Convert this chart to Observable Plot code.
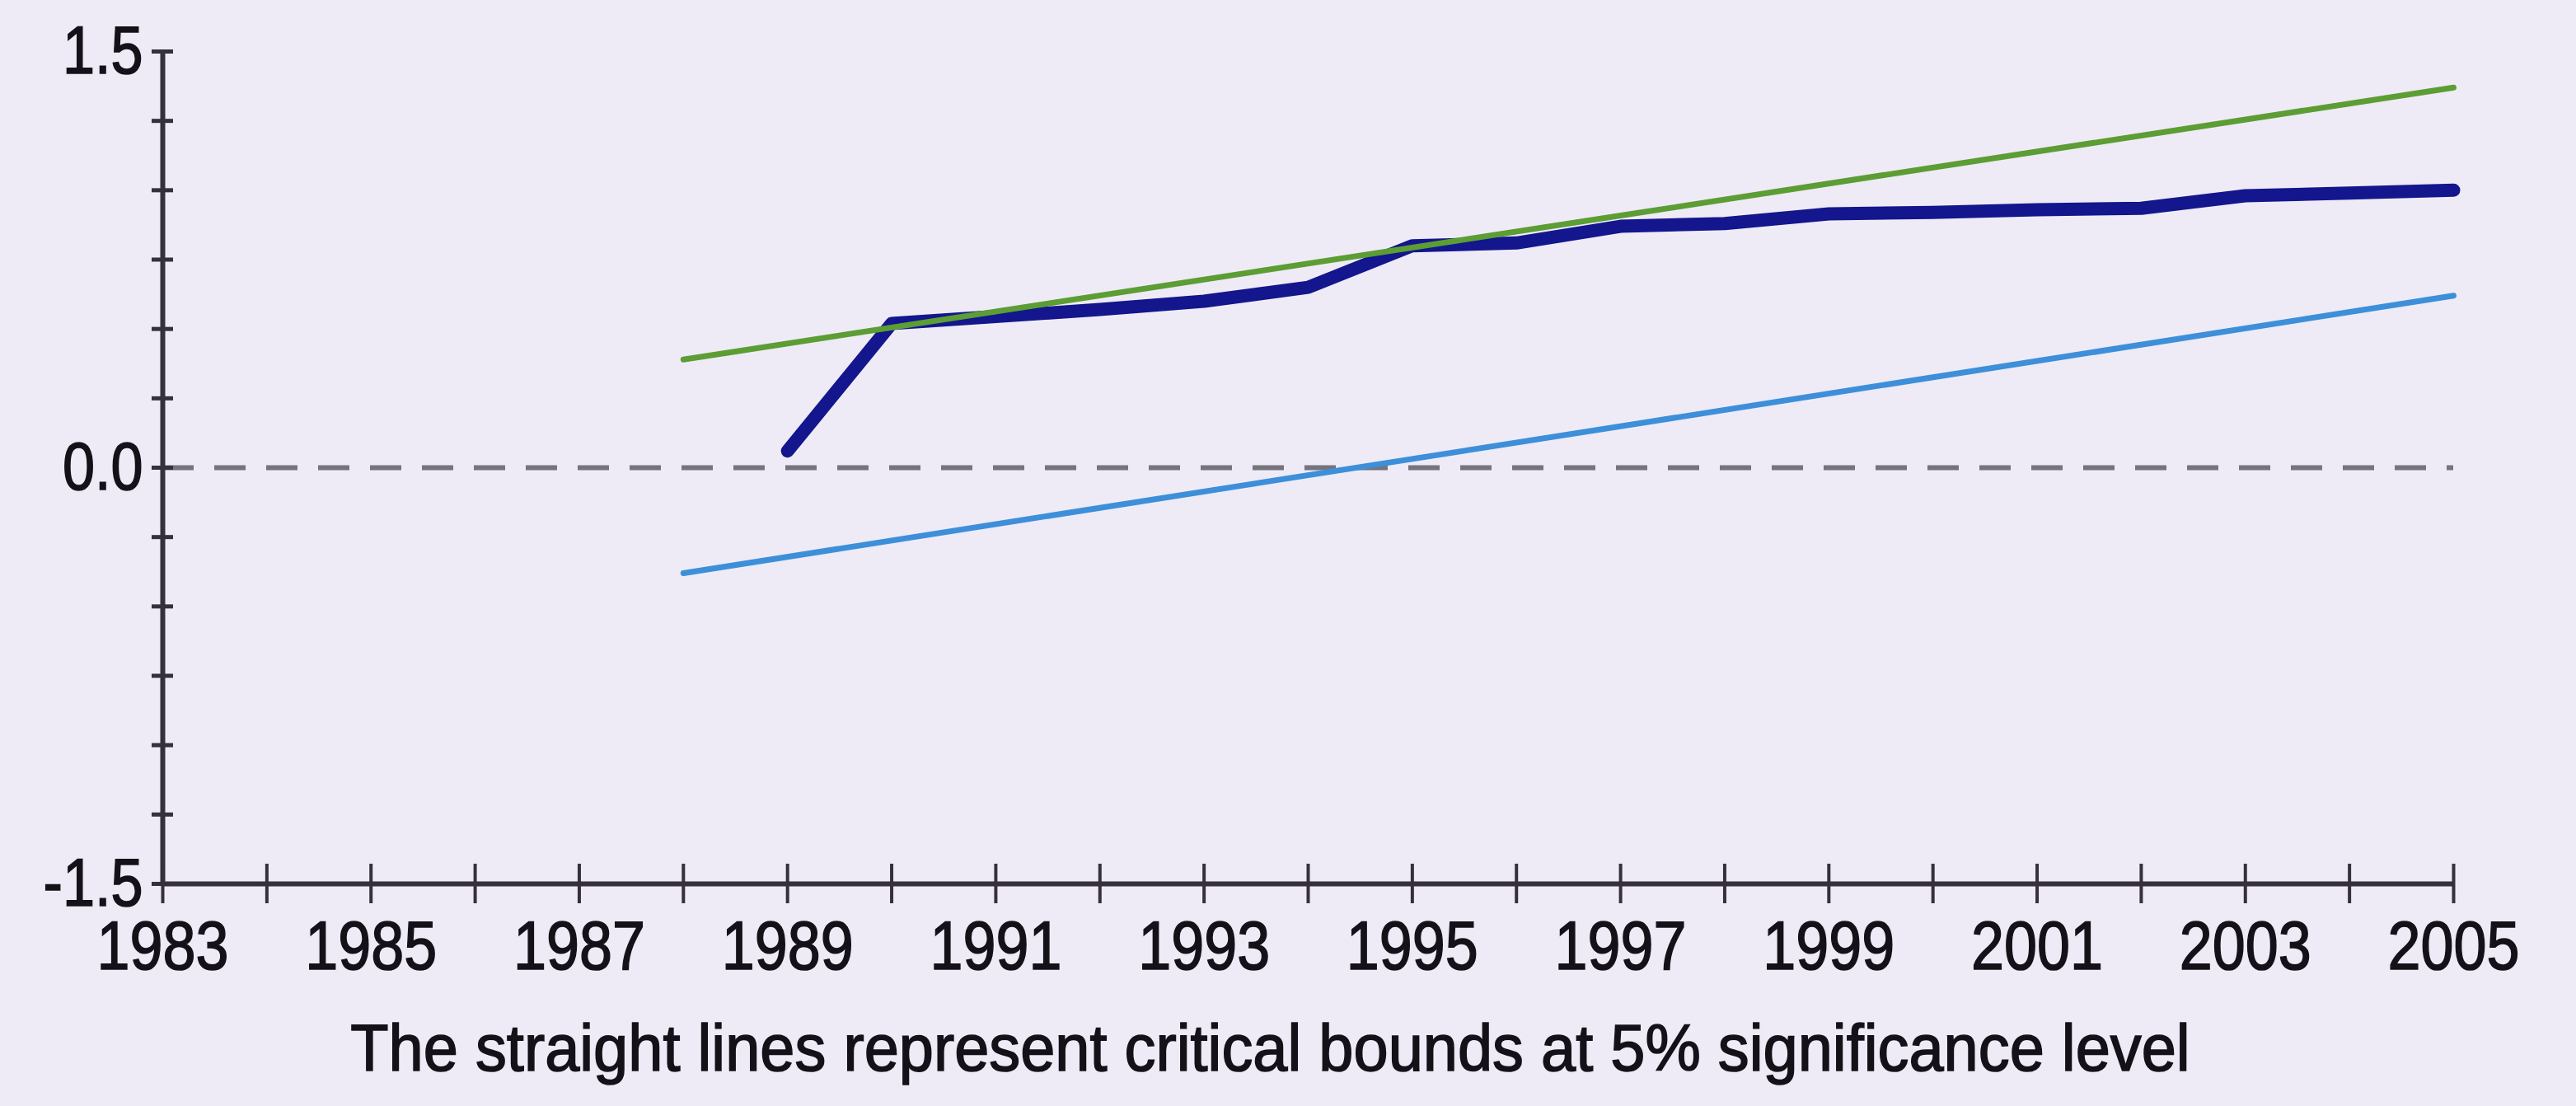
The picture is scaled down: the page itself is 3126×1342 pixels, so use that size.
<!DOCTYPE html>
<html>
<head>
<meta charset="utf-8">
<script src="https://cdn.jsdelivr.net/npm/d3@7"></script>
<script src="https://cdn.jsdelivr.net/npm/@observablehq/plot@0.6"></script>
<style>
  html, body { margin: 0; padding: 0; background: #eeebf6; }
  #chart { width: 3126px; height: 1342px; }
</style>
</head>
<body>
<div id="chart"></div>
<script>
// ---- data ----
const years = [1989, 1990, 1991, 1992, 1993, 1994, 1995, 1996, 1997, 1998, 1999, 2000, 2001, 2002, 2003, 2004, 2005];
const cusumsq = [0.06, 0.52, 0.545, 0.57, 0.60, 0.65, 0.80, 0.81, 0.87, 0.88, 0.915, 0.92, 0.93, 0.935, 0.98, 0.99, 1.0];
const boundYears = [1988, 2005];
const upperBound = [0.39, 1.37];
const lowerBound = [-0.38, 0.62];
const xTickYears = [1983, 1984, 1985, 1986, 1987, 1988, 1989, 1990, 1991, 1992, 1993, 1994, 1995, 1996, 1997, 1998, 1999, 2000, 2001, 2002, 2003, 2004, 2005];
const xLabelYears = [1983, 1985, 1987, 1989, 1991, 1993, 1995, 1997, 1999, 2001, 2003, 2005];
const yTicks = [-1.5, -1.25, -1.0, -0.75, -0.5, -0.25, 0, 0.25, 0.5, 0.75, 1.0, 1.25, 1.5];
const yLabelTicks = [-1.5, 0, 1.5];
const caption = "The straight lines represent critical bounds at 5% significance level";

const cusumRows = years.map((y, i) => ({year: y, v: cusumsq[i]}));
const upperRows = boundYears.map((y, i) => ({year: y, v: upperBound[i]}));
const lowerRows = boundYears.map((y, i) => ({year: y, v: lowerBound[i]}));
const xDomain = [xTickYears[0], xTickYears[xTickYears.length - 1]];
const yDomain = [yTicks[0], yTicks[yTicks.length - 1]];

const axisColor = "#362f3c";
const textColor = "#141218";

const svg = Plot.plot({
  width: 3126,
  height: 1342,
  marginLeft: 197,
  marginRight: 149,
  marginTop: 62,
  marginBottom: 270,
  style: {background: "transparent", fontFamily: "Arial, 'Liberation Sans', sans-serif", fontSize: "82px", color: textColor},
  x: {domain: xDomain},
  y: {domain: yDomain},
  marks: [
    Plot.ruleY([0], {stroke: "#75737c", strokeWidth: 6, strokeDasharray: "38,25"}),
    Plot.line(cusumRows, {x: "year", y: "v", stroke: "#13168c", strokeWidth: 16, strokeLinejoin: "round", strokeLinecap: "round"}),
    Plot.line(lowerRows, {x: "year", y: "v", stroke: "#3d8fd9", strokeWidth: 7}),
    Plot.line(upperRows, {x: "year", y: "v", stroke: "#5c9d34", strokeWidth: 7}),
    Plot.ruleX([xDomain[0]], {stroke: axisColor, strokeWidth: 6}),
    Plot.ruleY([yDomain[0]], {stroke: axisColor, strokeWidth: 6}),
    Plot.axisY({ticks: yTicks, tickSize: 26, dx: 13, tickFormat: () => "", label: null, stroke: axisColor, strokeWidth: 5}),
    Plot.axisY({ticks: yLabelTicks, tickSize: 0, tickPadding: 24, tickFormat: d => d.toFixed(1), label: null, fill: textColor, fontSize: 82}),
    Plot.axisX({ticks: xTickYears, tickSize: 48, dy: -24, tickFormat: () => "", label: null, stroke: axisColor, strokeWidth: 4}),
    Plot.axisX({ticks: xLabelYears, tickSize: 0, tickPadding: 44, tickFormat: d => String(d), label: null, fill: textColor, fontSize: 84}),
    Plot.text([caption], {frameAnchor: "bottom", text: d => d, dy: 170, dx: -46, lineAnchor: "top", fontSize: 80, fill: textColor})
  ]
});

document.getElementById("chart").appendChild(svg);

// horizontally condense and slightly embolden the text like the reference's scanned lettering
function condense(t, s) {
  const tr = t.getAttribute("transform") || "";
  const x = t.getAttribute("x");
  if (x != null && !tr) {
    t.setAttribute("transform", `translate(${x},0) scale(${s},1) translate(${-x},0)`);
  } else {
    t.setAttribute("transform", (tr + ` scale(${s},1)`).trim());
  }
  t.setAttribute("stroke", textColor);
  t.setAttribute("stroke-width", "1.6");
  t.setAttribute("paint-order", "fill");
}
let tickScale = 0.87;
const texts = Array.from(svg.querySelectorAll("text"));
const sample = texts.find(t => t.textContent === "1983");
if (sample && sample.getComputedTextLength) {
  const len = sample.getComputedTextLength();
  if (len > 0) tickScale = 160 / len;
}
texts.forEach(t => {
  if (t.textContent === caption) {
    const len = t.getComputedTextLength();
    condense(t, len > 0 ? 2233 / len : 0.82);
  } else if (t.textContent.trim() !== "") {
    condense(t, tickScale);
  }
});
</script>
</body>
</html>
